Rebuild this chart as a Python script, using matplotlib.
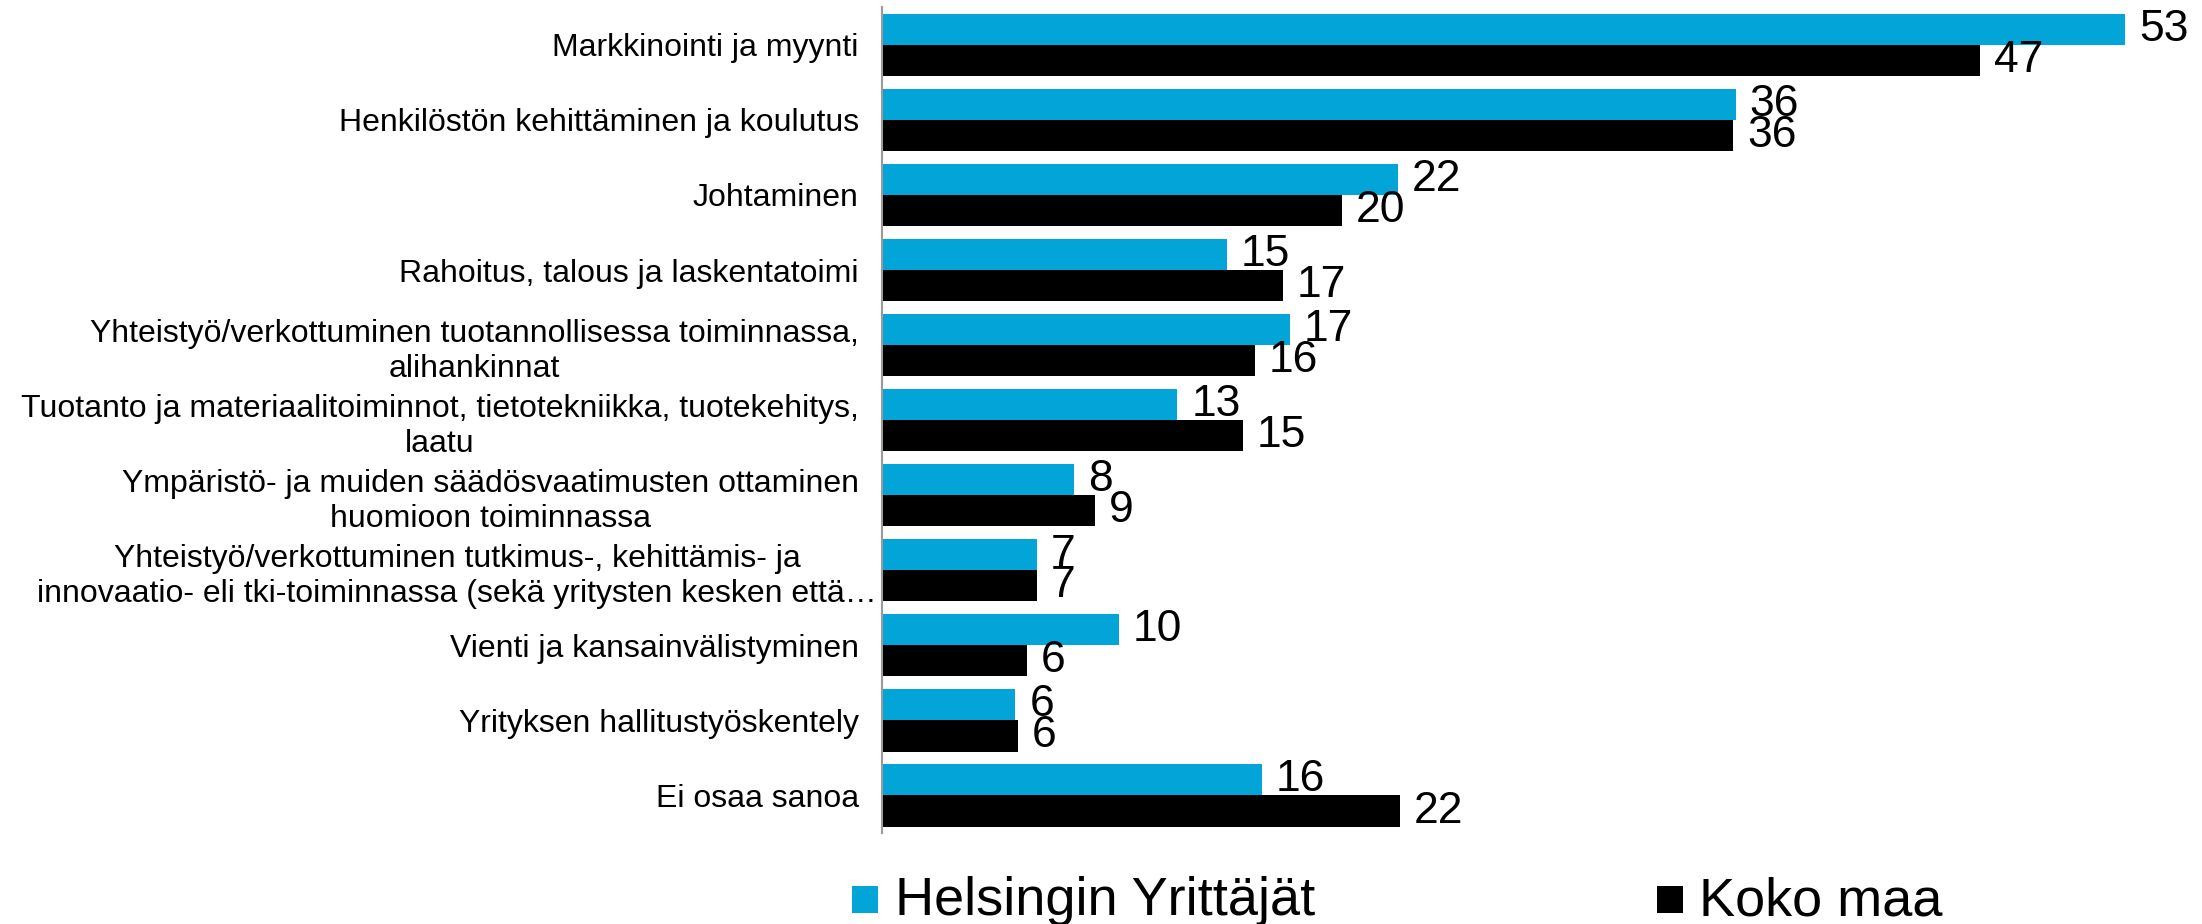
import matplotlib
matplotlib.use("Agg")
import matplotlib.pyplot as plt
from matplotlib.patches import Rectangle
from matplotlib.transforms import ScaledTranslation
import numpy as np

plt.rcParams["font.family"] = ["Liberation Sans", "DejaVu Sans"]

BLUE, BLACK, AXIS_GREY = "#03A5D9", "#000000", "#9A9A9A"

categories = [
    "Markkinointi ja myynti",
    "Henkilöstön kehittäminen ja koulutus",
    "Johtaminen",
    "Rahoitus, talous ja laskentatoimi",
    "Yhteistyö/verkottuminen tuotannollisessa toiminnassa,\nalihankinnat",
    "Tuotanto ja materiaalitoiminnot, tietotekniikka, tuotekehitys,\nlaatu",
    "Ympäristö- ja muiden säädösvaatimusten ottaminen\nhuomioon toiminnassa",
    "Yhteistyö/verkottuminen tutkimus-, kehittämis- ja\ninnovaatio- eli tki-toiminnassa (sekä yritysten kesken että…",
    "Vienti ja kansainvälistyminen",
    "Yrityksen hallitustyöskentely",
    "Ei osaa sanoa",
]
series_names = ["Helsingin Yrittäjät", "Koko maa"]
# % of respondents (labels show them rounded)
helsinki = [53.0, 36.4, 22.0, 14.7, 17.4, 12.6, 8.2, 6.6, 10.1, 5.7, 16.2]
koko_maa = [46.8, 36.3, 19.6, 17.1, 15.9, 15.4, 9.1, 6.6, 6.2, 5.8, 22.1]


def main():
    W, H = 2202, 924
    fig = plt.figure(figsize=(W / 100, H / 100), dpi=100)
    ax = fig.add_axes([881.7 / W, 1 - 833 / H, 1313.8 / W, (833 - 7.3) / H])

    y = np.arange(len(categories))
    h = 0.415
    b1 = ax.barh(y - h / 2, helsinki, height=h, color=BLUE, linewidth=0)
    b2 = ax.barh(y + h / 2, koko_maa, height=h, color=BLACK, linewidth=0)

    for bars, vals in ((b1, helsinki), (b2, koko_maa)):
        for rect, v in zip(bars, vals):
            ax.annotate(f"{v:.0f}", (rect.get_width(), rect.get_y() + rect.get_height() / 2),
                        xytext=(10, 0), textcoords="offset points",
                        ha="left", va="center", fontsize=32, color="black")

    ax.set_xlim(0, 56)
    ax.set_ylim(len(categories) - 0.5, -0.5)
    ax.set_yticks(y)
    labels = ax.set_yticklabels(categories, fontsize=23, multialignment="center", linespacing=1.22)
    ax.tick_params(axis="y", length=0, pad=16.5)
    # the long truncated label spills past its box in the original
    labels[7].set_transform(labels[7].get_transform()
                            + ScaledTranslation(18 / 100, 0, fig.dpi_scale_trans))
    ax.set_xticks([])
    for s in ("top", "right", "bottom"):
        ax.spines[s].set_visible(False)
    ax.spines["left"].set_color(AXIS_GREY)
    ax.spines["left"].set_linewidth(1.5)

    # legend, laid out by hand like the original deck
    for (x0, tx), name, col in zip(((852, 895), (1657, 1699)), series_names, (BLUE, BLACK)):
        fig.patches.append(Rectangle((x0 / W, 1 - 913 / H), 26 / W, 27 / H,
                                     transform=fig.transFigure, color=col, linewidth=0))
        fig.text(tx / W, 1 - 915 / H, name, fontsize=39, va="baseline", ha="left")

    fig.savefig("out.png", dpi=100)
    plt.close(fig)


if __name__ == "__main__":
    main()
